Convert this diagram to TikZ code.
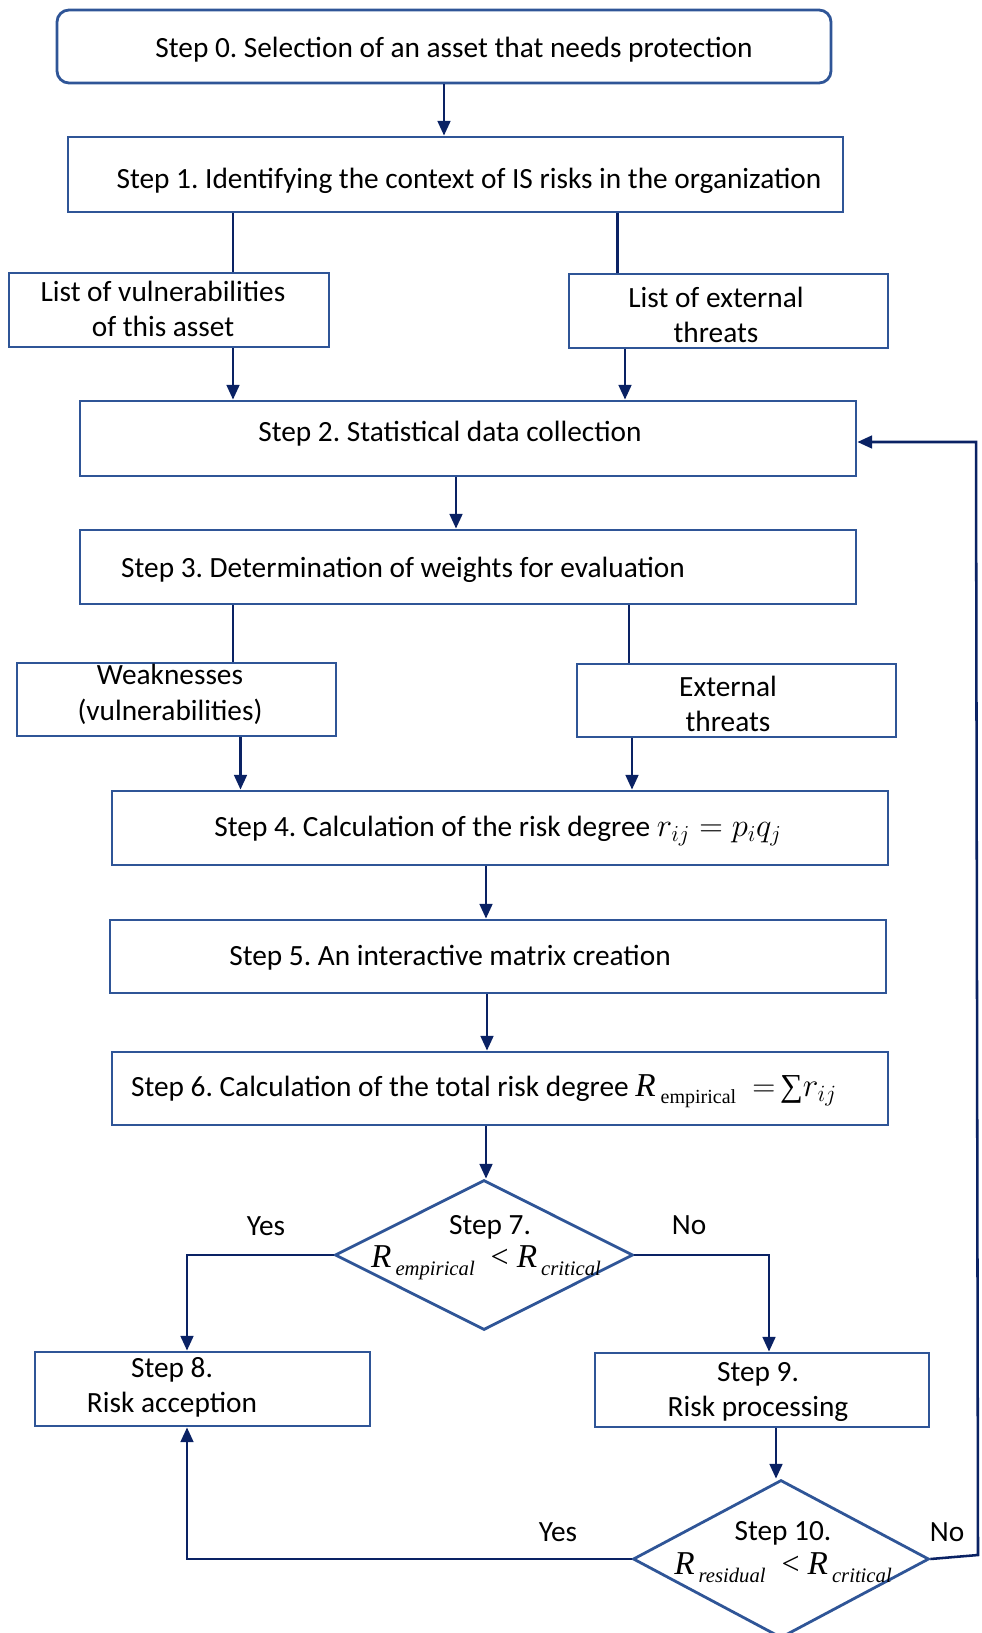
\documentclass[tikz,border=0pt]{standalone}
\usepackage{fix-cm}
\usepackage{fontspec}
\setmainfont{Carlito}
\newfontfamily\tms{Liberation Serif}
\usetikzlibrary{shapes.geometric,arrows.meta}
\definecolor{boxc}{RGB}{47,85,151}
\definecolor{arrc}{RGB}{10,34,100}
\newcommand\Rsb[1]{{\tms\itshape\fontsize{25}{26}\selectfont R}\kern3pt\raisebox{-6pt}{\tms\itshape\fontsize{15.5}{16}\selectfont #1}}
\newcommand\Rlt{\kern12pt{\tms\fontsize{24}{26}\selectfont<}\kern6pt}
\frenchspacing
\begin{document}
\begin{tikzpicture}[x=0.75pt,y=-0.75pt,
  bx/.style 2 args={draw=boxc,line width=2.1pt,inner sep=0pt,minimum width=#1*0.75pt,minimum height=#2*0.75pt},
  dm/.style 2 args={diamond,draw=boxc,line width=2.1pt,inner sep=0pt,minimum width=#1*0.75pt,minimum height=#2*0.75pt},
  txt/.style={inner sep=0pt,align=center,font=\fontsize{22}{26.5}\selectfont},
  ln/.style={draw=arrc,line width=1.9pt},
  arr/.style={ln,-{Triangle[length=11pt,width=9.5pt]}}]
\useasboundingbox[fill=white] (0,0) rectangle (981,1633);
% boxes
\node[bx={774}{73},rounded corners=9pt] (b0) at (444,46.5) {};
\node[bx={775}{75}] (b1) at (455.5,174.5) {};
\node[bx={320}{74}] (v1) at (169,310) {};
\node[bx={319}{74}] (e1) at (728.5,311) {};
\node[bx={776}{75}] (b2) at (468,438.5) {};
\node[bx={776}{74}] (b3) at (468,567) {};
\node[bx={319}{73}] (w3) at (176.5,699.5) {};
\node[bx={319}{73}] (e3) at (736.5,700.5) {};
\node[bx={776}{74}] (b4) at (500,828) {};
\node[bx={776}{73}] (b5) at (498,956.5) {};
\node[bx={776}{73}] (b6) at (500,1088.5) {};
\node[dm={298}{150}] (d7) at (484,1255) {};
\node[bx={335}{74}] (b8) at (202.5,1389) {};
\node[bx={334}{74}] (b9) at (762,1390) {};
\node[dm={296}{158}] (d10) at (781,1559) {};
% texts
\node[txt] (t0) at (454,50) {Step 0. Selection of an asset that needs protection};
\node[txt] (t1) at (469,181) {Step 1. Identifying the context of IS risks in the organization};
\node[txt] (tv1) at (163,309) {List of vulnerabilities\\of this asset};
\node[txt] (te1) at (716,315) {List of external\\threats};
\node[txt] (t2) at (450,434) {Step 2. Statistical data collection};
\node[txt] (t3) at (403,570) {Step 3. Determination of weights for evaluation};
\node[txt] (tw3) at (170,694.5) {Weaknesses\\(vulnerabilities)};
\node[txt] (te3) at (728,704) {External\\threats};
\node[txt] (t4) at (498,831) {Step 4. Calculation of the risk degree {\fontsize{24.5}{26}\selectfont$r_{ij}=p_iq_j$}};
\node[txt] (t5) at (450,957.5) {Step 5. An interactive matrix creation};
\node[txt] (t6) at (484,1091) {Step 6. Calculation of the total risk degree {\tms\itshape\fontsize{25}{26}\selectfont R}\,\raisebox{-5pt}{\tms\fontsize{15}{16}\selectfont empirical}\hspace{12pt}{\fontsize{24}{26}\selectfont$=$}\,{\tms\fontsize{24}{26}\selectfont ∑}{\fontsize{25}{26}\selectfont$r_{ij}$}};
\node[txt] (t7a) at (490,1227) {Step 7.};
\node[txt] (t7b) at (486,1263) {\Rsb{empirical}\Rlt\Rsb{critical}};
\node[txt] (t8) at (172,1387) {Step 8.\\Risk acception};
\node[txt] (t9) at (758,1392) {Step 9.\\Risk processing};
\node[txt] (t10a) at (783,1533) {Step 10.};
\node[txt] (t10b) at (783,1568) {\Rsb{residual}\Rlt\Rsb{critical}};
\node[txt] (y7) at (266,1226) {Yes};
\node[txt] (n7) at (689,1225) {No};
\node[txt] (y10) at (558,1532) {Yes};
\node[txt] (n10) at (947,1532) {No};
% column coordinates
\coordinate (xa) at (233,0);
\coordinate (xb) at (617.5,0);
\coordinate (xc) at (625,0);
\coordinate (xd) at (629,0);
\coordinate (xe) at (240.5,0);
\coordinate (xf) at (632,0);
\coordinate (xg) at (187,0);
\coordinate (xh) at (769,0);
\coordinate (xi) at (456,0);
\coordinate (xj) at (486,0);
\coordinate (xk) at (487,0);
\coordinate (xl) at (776,0);
\coordinate (fbA) at (978,1555);
\coordinate (fbB) at (976,442);
% connectors
\draw[arr] (b0.south) -- (b0.south |- b1.north);
\draw[ln] (b1.south -| xa) -- (v1.north -| xa);
\draw[ln] (b1.south -| xb) -- (e1.north -| xb);
\draw[arr] (v1.south -| xa) -- (b2.north -| xa);
\draw[arr] (e1.south -| xc) -- (b2.north -| xc);
\draw[arr] (b2.south -| xi) -- (b3.north -| xi);
\draw[ln] (b3.south -| xa) -- (w3.north -| xa);
\draw[ln] (b3.south -| xd) -- (e3.north -| xd);
\draw[arr] (w3.south -| xe) -- (b4.north -| xe);
\draw[arr] (e3.south -| xf) -- (b4.north -| xf);
\draw[arr] (b4.south -| xj) -- (b5.north -| xj);
\draw[arr] (b5.south -| xk) -- (b6.north -| xk);
\draw[arr] (b6.south -| xj) -- (d7.north -| xj);
\draw[arr] (d7.west) -| (b8.north -| xg);
\draw[arr] (d7.east) -| (b9.north -| xh);
\draw[arr] (b9.south -| xl) -- (d10.north -| xl);
\draw[arr] (d10.west) -| (b8.south -| xg);
\draw[arr] (d10.east) -- (fbA) -- (fbB) -- (b2.east |- fbB);
\end{tikzpicture}
\end{document}
